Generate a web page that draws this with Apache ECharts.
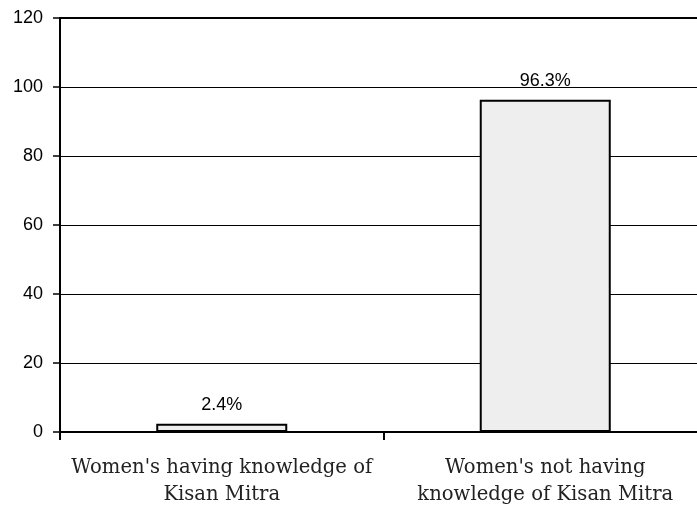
<!DOCTYPE html>
<html>
<head>
<meta charset="utf-8">
<script src="https://cdn.jsdelivr.net/npm/echarts@6/dist/echarts.min.js"></script>
<style>
  html, body { margin: 0; padding: 0; background: #fff; }
  #chart { width: 697px; height: 510px; }
</style>
</head>
<body>
<div id="chart"></div>
<script>
// Awareness of Kisan Mitra among women (%)
var categories = [
  "Women's having knowledge of\nKisan Mitra",
  "Women's not having\nknowledge of Kisan Mitra"
];
var values = [2.4, 96.3];
var yTicks = { min: 0, max: 120, interval: 20 };

var chart = echarts.init(document.getElementById('chart'), null, { renderer: 'canvas' });
chart.setOption({
  animation: false,
  backgroundColor: '#fff',
  grid: {
    left: 60, width: 647, top: 18, height: 414,
    outerBoundsMode: 'none', containLabel: false,
    show: true, borderColor: '#000', borderWidth: 2, backgroundColor: 'transparent'
  },
  xAxis: {
    type: 'category',
    data: categories,
    axisLine: { lineStyle: { color: '#000', width: 2 } },
    axisTick: { show: true, alignWithLabel: false, length: 8, lineStyle: { color: '#000', width: 2 } },
    axisLabel: {
      color: '#222', fontFamily: 'DejaVu Serif', fontSize: 19.6,
      lineHeight: 27, margin: 22, interval: 0
    }
  },
  yAxis: {
    type: 'value',
    min: yTicks.min, max: yTicks.max, interval: yTicks.interval,
    axisLine: { show: true, lineStyle: { color: '#000', width: 2 } },
    axisTick: { show: true, length: 7, lineStyle: { color: '#000', width: 1.5 } },
    axisLabel: { color: '#000', fontFamily: 'Liberation Sans', fontSize: 18, margin: 17 },
    splitLine: { show: true, lineStyle: { color: '#000', width: 1 } }
  },
  series: [{
    type: 'bar',
    data: values,
    barWidth: '40.5%',
    itemStyle: { color: '#eeeeee', borderColor: '#000', borderWidth: 2 },
    label: {
      show: true, position: 'top', distance: 10,
      formatter: function (p) { return p.value.toFixed(1) + '%'; },
      color: '#000', fontFamily: 'Liberation Sans', fontSize: 18
    }
  }]
});
</script>
</body>
</html>
